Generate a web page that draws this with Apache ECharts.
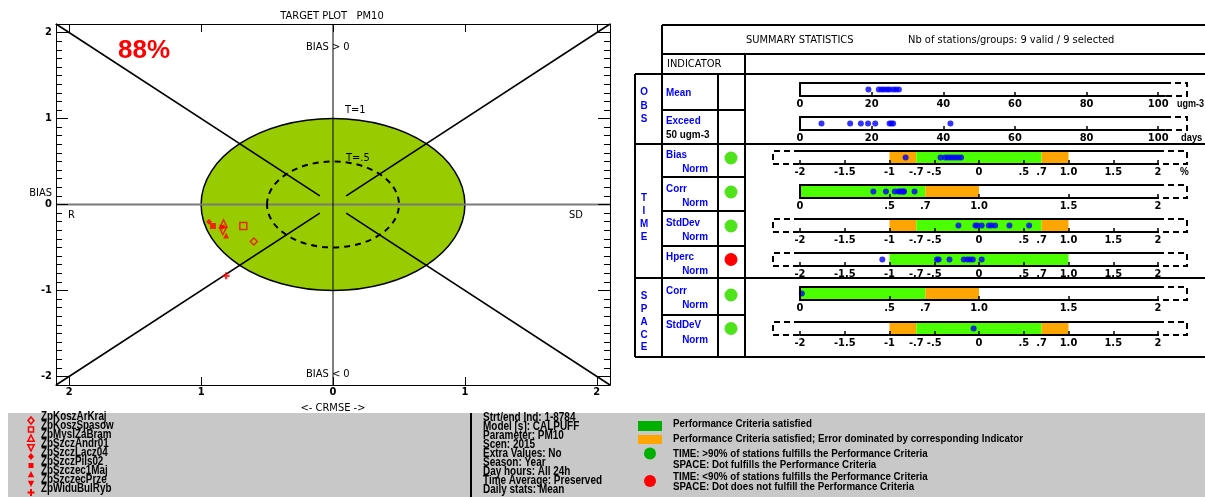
<!DOCTYPE html>
<html><head><meta charset="utf-8">
<script src="https://cdn.jsdelivr.net/npm/echarts@6/dist/echarts.min.js"></script>
<style>html,body{margin:0;padding:0;background:#fff}#c{width:1205px;height:497px}</style>
</head><body><div id="c"></div>
<script>
// ---------------- DATA ----------------
const stationNames = ['ZpKoszArKraj','ZpKoszSpasow','ZpMyslZaBram','ZpSzczAndr01','ZpSzczLacz04','ZpSzczPils02','ZpSzczec1Maj','ZpSzczecPrze','ZpWiduBulRyb'];
const targetCRMSE = [-0.60, -0.68, -0.83, -0.835, -0.94, -0.91, -0.81, -0.84, -0.81];
const targetBias  = [-0.43, -0.25, -0.22, -0.31, -0.20, -0.25, -0.36, -0.27, -0.83];
const pctInTarget = '88%';
const obsMean   = [19.1, 22.0, 22.8, 23.5, 24.3, 25.0, 26.0, 26.8, 27.6];
const obsExceed = [6, 14, 17, 19, 21, 25, 25.5, 26, 42];
const timeBias   = [-0.82, -0.43, -0.38, -0.35, -0.32, -0.29, -0.26, -0.23, -0.20];
const timeCorr   = [0.41, 0.48, 0.53, 0.55, 0.56, 0.57, 0.58, 0.58, 0.64];
const timeStdDev = [-0.23, -0.04, -0.02, 0.03, 0.11, 0.14, 0.18, 0.34, 0.56];
const timeHperc  = [-1.08, -0.47, -0.45, -0.33, -0.17, -0.13, -0.10, -0.07, 0.03];
const spaceCorr   = [0.01];
const spaceStdDev = [-0.06];
const timeFlags  = [true, true, true, false];
const spaceFlags = [true, true];
const normZones  = [[-1, -0.7, 'o'], [-0.7, 0.7, 'g'], [0.7, 1, 'o']];
const corrZones  = [[0, 0.7, 'g'], [0.7, 1, 'o']];
const hpercZones = [[-1, 1, 'g']];
const targetTicks = [-2, -1, 0, 1, 2];
const normTicks  = [-2, -1.5, -1, -0.5, 0, 0.5, 1, 1.5, 2];
const normLabels = [-2, -1.5, -1, -0.7, -0.5, 0, 0.5, 0.7, 1, 1.5, 2];
const corrTicks  = [0, 0.5, 1, 1.5, 2];
const corrLabels = [0, 0.5, 0.7, 1, 1.5, 2];
const obsTicks   = [0, 20, 40, 60, 80, 100];
const targetCircles = [1, 0.5];
const diagonals = [[[-2.1, 2.1], [-0.1, 0.1]], [[2.1, 2.1], [0.1, 0.1]], [[-2.1, -2.1], [-0.1, -0.1]], [[2.1, -2.1], [0.1, -0.1]]];
const infoLines = ['Strt/end Ind: 1-8784','Model [s]: CALPUFF','Parameter: PM10','Scen: 2015','Extra Values: No','Season: Year','Day hours: All 24h','Time Average: Preserved','Daily stats: Mean'];

// ---------------- STYLE ----------------
const F = "'Liberation Sans Narrow','DejaVu Sans Condensed','Liberation Sans',sans-serif";
const A = "'Liberation Sans',Arial,sans-serif";
const GREEN = '#4cff00', ORANGE = '#ffa500', BLUE = '#0000ff', RED = '#ff0000';
const markerStyles = [
  {symbol: 'diamond', fill: false}, {symbol: 'rect', fill: false},
  {symbol: 'triangle', fill: false}, {symbol: 'triangle', rotate: 180, fill: false},
  {symbol: 'diamond', fill: true}, {symbol: 'rect', fill: true},
  {symbol: 'triangle', fill: true}, {symbol: 'triangle', rotate: 180, fill: true},
  {symbol: 'path://M2,0H4V2H6V4H4V6H2V4H0V2H2Z', fill: true, plus: true}
];
const fmtNorm = v => v === 1 ? '1.0' : String(v).replace(/^(-?)0\./, '$1.');

const minorTicks = [];
for (let i = -21; i <= 21; i++) minorTicks.push(i / 10);

// ---------------- TARGET PLOT ----------------
const grids = [{left: 56, top: 24, width: 554, height: 361, outerBoundsMode: 'none', containLabel: false}];
const lblFont = {fontFamily: F, fontWeight: 'bold', fontSize: 11, color: '#000'};
const xAxes = [
  {gridIndex: 0, type: 'value', min: -2.1, max: 2.1, position: 'bottom', z: 5,
   axisLine: {show: true, onZero: false, lineStyle: {color: '#000', width: 1}},
   axisTick: {show: true, inside: true, length: 8, customValues: targetTicks, lineStyle: {color: '#000'}},
   axisLabel: Object.assign({customValues: targetTicks, margin: 2, formatter: v => String(Math.abs(v))}, lblFont),
   splitLine: {show: false},
   name: '<- CRMSE ->', nameLocation: 'middle', nameGap: 8, nameTextStyle: {fontFamily: F, fontSize: 11, color: '#000'}},
  {gridIndex: 0, type: 'value', min: -2.1, max: 2.1, position: 'top', z: 5,
   axisLine: {show: true, onZero: false, lineStyle: {color: '#000', width: 1}},
   axisTick: {show: true, inside: true, length: 8, customValues: targetTicks, lineStyle: {color: '#000'}},
   axisLabel: {show: false}, splitLine: {show: false}}
];
const yAxes = [
  {gridIndex: 0, type: 'value', min: -2.1, max: 2.1, position: 'left', z: 5,
   axisLine: {show: true, onZero: false, lineStyle: {color: '#000', width: 1}},
   axisTick: {show: true, inside: true, length: 12, customValues: targetTicks, lineStyle: {color: '#000'}},
   axisLabel: Object.assign({customValues: targetTicks, margin: 4}, lblFont), splitLine: {show: false}},
  {gridIndex: 0, type: 'value', min: -2.1, max: 2.1, position: 'left', z: 5,
   axisLine: {show: false, onZero: false},
   axisTick: {show: true, inside: true, length: 6, customValues: minorTicks, lineStyle: {color: '#000'}},
   axisLabel: {show: false}, splitLine: {show: false}},
  {gridIndex: 0, type: 'value', min: -2.1, max: 2.1, position: 'right', z: 5,
   axisLine: {show: true, onZero: false, lineStyle: {color: '#000', width: 1}},
   axisTick: {show: true, inside: true, length: 12, customValues: targetTicks, lineStyle: {color: '#000'}},
   axisLabel: {show: false}, splitLine: {show: false}},
  {gridIndex: 0, type: 'value', min: -2.1, max: 2.1, position: 'right', z: 5,
   axisLine: {show: false, onZero: false},
   axisTick: {show: true, inside: true, length: 6, customValues: minorTicks, lineStyle: {color: '#000'}},
   axisLabel: {show: false}, splitLine: {show: false}}
];

const series = [];
series.push({
  type: 'custom', xAxisIndex: 0, yAxisIndex: 0, z: 1, silent: true, clip: false,
  data: [[targetCircles[0], 0]],
  renderItem(params, api) {
    const c = api.coord([0, 0]); const s = api.size([api.value(0), api.value(0)]);
    return {type: 'ellipse', shape: {cx: c[0], cy: c[1], rx: s[0], ry: s[1]},
      style: {fill: '#99cc00', stroke: '#000', lineWidth: 1.5}};
  }
});
series.push({type: 'line', xAxisIndex: 0, yAxisIndex: 0, z: 2, silent: true, symbol: 'none',
  data: [[-2.1, 0], [2.1, 0]], lineStyle: {color: '#7a7a7a', width: 2}});
series.push({type: 'line', xAxisIndex: 0, yAxisIndex: 0, z: 2, silent: true, symbol: 'none',
  data: [[0, -2.1], [0, 2.1]], lineStyle: {color: '#000', width: 1}});
diagonals.forEach(d => series.push({type: 'line', xAxisIndex: 0, yAxisIndex: 0, z: 3, silent: true,
  symbol: 'none', data: d, lineStyle: {color: '#000', width: 1.6}}));
series.push({
  type: 'custom', xAxisIndex: 0, yAxisIndex: 0, z: 3, silent: true, clip: false,
  data: [[targetCircles[1], 0]],
  renderItem(params, api) {
    const c = api.coord([0, 0]); const s = api.size([api.value(0), api.value(0)]);
    return {type: 'ellipse', shape: {cx: c[0], cy: c[1], rx: s[0], ry: s[1]},
      style: {fill: 'none', stroke: '#000', lineWidth: 2, lineDash: [6, 5]}};
  }
});
stationNames.forEach((n, i) => {
  const m = markerStyles[i];
  series.push({type: 'scatter', name: n, xAxisIndex: 0, yAxisIndex: 0, z: 6, silent: true,
    symbol: m.symbol, symbolRotate: m.rotate || 0, symbolSize: m.plus ? 7 : (m.fill ? 6 : 7),
    itemStyle: m.fill ? {color: RED} : {color: 'rgba(0,0,0,0)', borderColor: RED, borderWidth: 1.5},
    data: [[targetCRMSE[i], targetBias[i]]]});
});

// ---------------- SUMMARY ROWS ----------------
const rowsDef = [
  {values: obsMean, min: 0, max: 101.9, width: 365, top: 83, ticks: obsTicks, labels: obsTicks, zones: [], closed: true, leftDash: false, fmt: v => String(v)},
  {values: obsExceed, min: 0, max: 101.9, width: 365, top: 117, ticks: obsTicks, labels: obsTicks, zones: [], closed: true, leftDash: false, fmt: v => String(v)},
  {values: timeBias, min: -2, max: 2, width: 358, top: 151, ticks: normTicks, labels: normLabels, zones: normZones, closed: false, leftDash: true, fmt: fmtNorm},
  {values: timeCorr, min: 0, max: 2, width: 358, top: 185, ticks: corrTicks, labels: corrLabels, zones: corrZones, closed: true, leftDash: false, fmt: fmtNorm},
  {values: timeStdDev, min: -2, max: 2, width: 358, top: 219, ticks: normTicks, labels: normLabels, zones: normZones, closed: false, leftDash: true, fmt: fmtNorm},
  {values: timeHperc, min: -2, max: 2, width: 358, top: 253, ticks: normTicks, labels: normLabels, zones: hpercZones, closed: false, leftDash: true, fmt: fmtNorm},
  {values: spaceCorr, min: 0, max: 2, width: 358, top: 287, ticks: corrTicks, labels: corrLabels, zones: corrZones, closed: true, leftDash: false, fmt: fmtNorm},
  {values: spaceStdDev, min: -2, max: 2, width: 358, top: 322, ticks: normTicks, labels: normLabels, zones: normZones, closed: false, leftDash: true, fmt: fmtNorm}
];
const BAR_H = 13, BAR_L = 800, BRK_R = 1187, BRK_L = 773;
const G = [];
const txt = (x, y, text, o = {}) => G.push({type: 'text', x, y, z: o.z || 20, silent: true, scaleX: o.sx || 1,
  style: {text, fill: o.color || '#000', font: o.font || ('bold 11px ' + A), align: o.align || 'left', verticalAlign: 'middle'}});
const ln = (x1, y1, x2, y2, w = 2, color = '#000', dash = null) => G.push({type: 'line', z: 20, silent: true,
  shape: {x1, y1, x2, y2}, style: {stroke: color, lineWidth: w, lineDash: dash}});
const pl = (pts, dash) => G.push({type: 'polyline', z: 20, silent: true, shape: {points: pts},
  style: {stroke: '#000', lineWidth: 2, fill: null, lineDash: dash}});

rowsDef.forEach((r, i) => {
  const gi = 1 + i;
  grids.push({left: BAR_L, top: r.top, width: r.width, height: BAR_H, outerBoundsMode: 'none', containLabel: false});
  xAxes.push({gridIndex: gi, type: 'value', min: r.min, max: r.max, position: 'bottom', z: 10,
    axisLine: {show: true, onZero: false, lineStyle: {color: '#000', width: 2}},
    axisTick: {show: true, inside: true, length: 4, customValues: r.ticks, lineStyle: {color: '#000', width: 1.5}},
    axisLabel: Object.assign({customValues: r.labels, margin: 3, formatter: r.fmt}, lblFont),
    splitLine: {show: false}});
  xAxes.push({gridIndex: gi, type: 'value', min: r.min, max: r.max, position: 'top', z: 10,
    axisLine: {show: true, onZero: false, lineStyle: {color: '#000', width: 2}},
    axisTick: {show: false}, axisLabel: {show: false}, splitLine: {show: false}});
  yAxes.push({gridIndex: gi, type: 'value', min: 0, max: 1, position: 'left', z: 10,
    axisLine: {show: r.closed, onZero: false, lineStyle: {color: '#000', width: 2}},
    axisTick: {show: false}, axisLabel: {show: false}, splitLine: {show: false}});
  series.push({type: 'scatter', xAxisIndex: 2 + 2 * i, yAxisIndex: 4 + i, z: 4, silent: true,
    symbol: 'circle', symbolSize: 6, itemStyle: {color: BLUE},
    data: r.values.map(v => [v, 0.5]),
    markArea: {silent: true, label: {show: false},
      data: r.zones.map(z => [{xAxis: z[0], itemStyle: {color: z[2] === 'g' ? GREEN : ORANGE, opacity: 1}}, {xAxis: z[1]}])}});
  const t = r.top, b = r.top + BAR_H, right = BAR_L + r.width;
  pl([[right, t], [BRK_R, t], [BRK_R, b], [right, b]], [6, 4]);
  if (r.leftDash) pl([[BAR_L, t], [BRK_L, t], [BRK_L, b], [BAR_L, b]], [6, 4]);
});

// ---------------- TABLE ----------------
const TR = 1205;
ln(662, 25, TR, 25); ln(662, 25, 662, 357); ln(662, 54, TR, 54); ln(745, 54, 745, 357);
ln(635, 74, TR, 74); ln(635, 74, 635, 357); ln(718, 74, 718, 357);
ln(662, 110, 745, 110); ln(635, 144, TR, 144);
ln(662, 177, 745, 177); ln(662, 211, 745, 211); ln(662, 246, 745, 246);
ln(635, 278, TR, 278); ln(662, 315, 745, 315); ln(635, 357, TR, 357);
txt(746, 40, 'SUMMARY STATISTICS', {font: '11px ' + F});
txt(908, 40, 'Nb of stations/groups: 9 valid / 9 selected', {font: '11px ' + F});
txt(667, 64, 'INDICATOR', {font: '11px ' + F});
const B = {color: BLUE, sx: 0.9};
const BR = {color: BLUE, sx: 0.9, align: 'right'};
const BC = {color: BLUE, sx: 0.9, align: 'center'};
[['O', 92], ['B', 105.5], ['S', 118.5]].forEach(a => txt(644, a[1], a[0], BC));
[['T', 198], ['I', 211], ['M', 224], ['E', 237]].forEach(a => txt(644, a[1], a[0], BC));
[['S', 296], ['P', 309], ['A', 322], ['C', 334.5], ['E', 347]].forEach(a => txt(644, a[1], a[0], BC));
txt(666, 93, 'Mean', B); txt(666, 121, 'Exceed', B); txt(666, 135, '50 ugm-3', {sx: 0.9});
txt(666, 155, 'Bias', B); txt(708, 169, 'Norm', BR);
txt(666, 189, 'Corr', B); txt(708, 203, 'Norm', BR);
txt(666, 222.5, 'StdDev', B); txt(708, 237, 'Norm', BR);
txt(666, 256.5, 'Hperc', B); txt(708, 271, 'Norm', BR);
txt(666, 290.5, 'Corr', B); txt(708, 305, 'Norm', BR);
txt(666, 325, 'StdDeV', B); txt(708, 339.5, 'Norm', BR);
txt(1177, 104, 'ugm-3', {sx: 0.82}); txt(1181, 138, 'days', {sx: 0.85}); txt(1180, 172, '%', {sx: 0.9});
const flagYs = [158, 192, 226, 259.5];
timeFlags.forEach((f, i) => G.push({type: 'circle', z: 20, silent: true, shape: {cx: 731, cy: flagYs[i], r: 6.5}, style: {fill: f ? '#4fe31b' : RED}}));
const sflagYs = [295, 328.5];
spaceFlags.forEach((f, i) => G.push({type: 'circle', z: 20, silent: true, shape: {cx: 731, cy: sflagYs[i], r: 6.5}, style: {fill: f ? '#4fe31b' : RED}}));

// ---------------- TARGET TEXTS ----------------
txt(332, 16, 'TARGET PLOT   PM10', {font: '11px ' + F, align: 'center'});
txt(306, 47, 'BIAS > 0', {font: '11px ' + F, z: 1});
txt(306, 374, 'BIAS < 0', {font: '11px ' + F, z: 1});
txt(345, 110, 'T=1', {font: '11px ' + F});
txt(346, 158, 'T=.5', {font: '11px ' + F});
txt(68, 215, 'R', {font: '11px ' + F});
txt(569, 215, 'SD', {font: '11px ' + F});
txt(52, 193, 'BIAS', {font: '11px ' + F, align: 'right'});
txt(118, 51, pctInTarget, {font: 'bold 26px ' + A, color: RED});

// ---------------- BOTTOM LEGEND ----------------
G.push({type: 'rect', z: 0, silent: true, shape: {x: 8, y: 413, width: 1197, height: 84}, style: {fill: '#c8c8c8'}});
ln(471, 413, 471, 497, 2);
function markerShape(m, x, y) {
  const st = m.fill ? {fill: RED} : {fill: 'none', stroke: RED, lineWidth: 1.5};
  if (m.plus) return {type: 'polygon', shape: {points: [[x-1,y-3.5],[x+1,y-3.5],[x+1,y-1],[x+3.5,y-1],[x+3.5,y+1],[x+1,y+1],[x+1,y+3.5],[x-1,y+3.5],[x-1,y+1],[x-3.5,y+1],[x-3.5,y-1],[x-1,y-1]]}, style: st};
  if (m.symbol === 'rect') return {type: 'rect', shape: {x: x - 2.5, y: y - 2.5, width: 5, height: 5}, style: st};
  if (m.symbol === 'diamond') return {type: 'polygon', shape: {points: [[x, y-3.5], [x+3, y], [x, y+3.5], [x-3, y]]}, style: st};
  const s = m.rotate ? -1 : 1;
  return {type: 'polygon', shape: {points: [[x, y - 3.5 * s], [x + 3.2, y + 2.8 * s], [x - 3.2, y + 2.8 * s]]}, style: st};
}
stationNames.forEach((n, i) => {
  const y = 417 + i * 9;
  txt(41, y, n, {font: 'bold 12px ' + A, sx: 0.82});
  const sh = markerShape(markerStyles[i], 31, y + 3.5); sh.z = 20; sh.silent = true; G.push(sh);
});
infoLines.forEach((s, i) => txt(483, 418 + i * 8.9, s, {font: 'bold 12px ' + A, sx: 0.83}));
G.push({type: 'rect', z: 20, silent: true, shape: {x: 638, y: 421, width: 24, height: 10}, style: {fill: '#00b000'}});
G.push({type: 'rect', z: 20, silent: true, shape: {x: 638, y: 435, width: 24, height: 9}, style: {fill: ORANGE}});
G.push({type: 'circle', z: 20, silent: true, shape: {cx: 650, cy: 453.5, r: 6}, style: {fill: '#00b000'}});
G.push({type: 'circle', z: 20, silent: true, shape: {cx: 650, cy: 481, r: 6}, style: {fill: RED}});
const RL = {font: 'bold 10.5px ' + A, sx: 0.93};
txt(673, 424, 'Performance Criteria satisfied', RL);
txt(673, 439, 'Performance Criteria satisfied; Error dominated by corresponding Indicator', RL);
txt(673, 454, 'TIME: >90% of stations fulfills the Performance Criteria', RL);
txt(673, 465, 'SPACE: Dot fulfills the Performance Criteria', RL);
txt(673, 477.5, 'TIME: <90% of stations fulfills the Performance Criteria', RL);
txt(673, 487, 'SPACE: Dot does not fulfill the Performance Criteria', RL);

const chart = echarts.init(document.getElementById('c'), null, {renderer: 'canvas'});
chart.setOption({animation: false, backgroundColor: '#fff', grid: grids, xAxis: xAxes, yAxis: yAxes, series, graphic: {elements: G}});
</script></body></html>
